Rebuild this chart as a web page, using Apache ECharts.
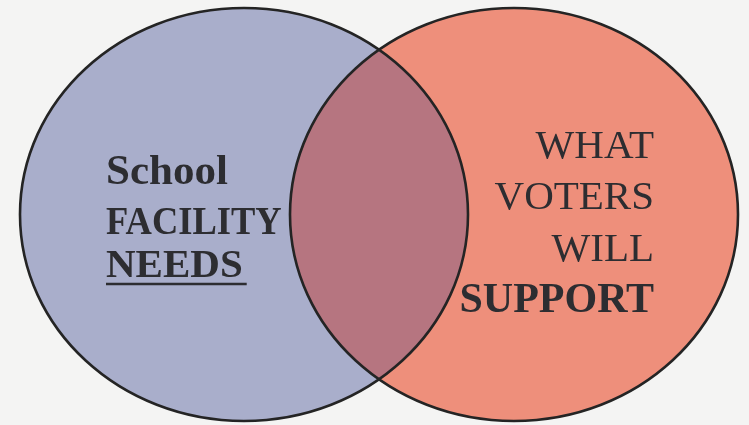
<!DOCTYPE html>
<html>
<head>
<meta charset="utf-8">
<title>School facility needs / what voters will support</title>
<script src="https://cdn.jsdelivr.net/npm/echarts@6/dist/echarts.min.js"></script>
<style>
  html, body { margin: 0; padding: 0; background: #f4f4f3; }
  #chart { width: 749px; height: 425px; }
</style>
</head>
<body>
<div id="chart"></div>
<script>
// the two sets of the venn diagram, in picture units (x to the right, y down)
const setNames = ['needs', 'support'];
const centerX = [244, 514];
const centerY = [214.5, 214.5];
const radiusX = [224, 224];
const radiusY = [206.5, 206.5];

// words written in each set
const needsLines = ['School', 'FACILITY', 'NEEDS'];
const supportLines = ['WHAT', 'VOTERS', 'WILL', 'SUPPORT'];

const fillColors = ['#a9aecb', '#ee8f7b'];
const overlapColor = '#b67580';
const lineColor = '#242424';
const textColor = '#2d2d31';
const serif = '"Liberation Serif", "DejaVu Serif", serif';

const chart = echarts.init(document.getElementById('chart'));

// ellipse of set i, converted to pixels by the axes
function ellipseOf(api, i) {
  const c = api.coord([centerX[i], centerY[i]]);
  const s = api.size([radiusX[i] * 2, radiusY[i] * 2]);
  return { cx: c[0], cy: c[1], rx: s[0] / 2, ry: s[1] / 2 };
}

function measure(text, font) {
  const ctx = document.createElement('canvas').getContext('2d');
  ctx.font = font;
  return ctx.measureText(text).width;
}

// baseline -> y for a middle-aligned text
function mid(baseline, size) {
  return baseline - size * 0.25;
}

function renderSet(params, api) {
  const i = params.dataIndex;
  const e = ellipseOf(api, i);
  return {
    type: 'ellipse',
    shape: e,
    style: { fill: fillColors[i], stroke: null }
  };
}

function renderOverlay(params, api) {
  const a = ellipseOf(api, 0);
  const b = ellipseOf(api, 1);
  // both sets share the same centre line and height
  const xi = (a.cx * b.rx + b.cx * a.rx) / (a.rx + b.rx);
  const t = (xi - a.cx) / a.rx;
  const dy = a.ry * Math.sqrt(1 - t * t);
  const yTop = a.cy - dy;
  const yBot = a.cy + dy;
  const lens = 'M' + xi + ' ' + yTop +
    ' A' + b.rx + ' ' + b.ry + ' 0 0 0 ' + xi + ' ' + yBot +
    ' A' + a.rx + ' ' + a.ry + ' 0 0 0 ' + xi + ' ' + yTop + ' Z';

  const children = [
    { type: 'path', shape: { pathData: lens }, style: { fill: overlapColor } },
    { type: 'ellipse', shape: a, style: { fill: null, stroke: lineColor, lineWidth: 2.6 } },
    { type: 'ellipse', shape: b, style: { fill: null, stroke: lineColor, lineWidth: 2.6 } }
  ];

  // left set words, bold, left aligned
  const lx = a.cx - 138;
  const leftBase = [184, 234, 277];
  const leftSize = [43, 41, 41];
  const leftScale = [1, 0.89, 1];
  needsLines.forEach(function (txt, k) {
    const y = api.coord([0, leftBase[k]])[1];
    children.push({
      type: 'text',
      x: lx,
      y: mid(y, leftSize[k]),
      scaleX: leftScale[k],
      style: {
        x: 0, y: 0, text: txt, fill: textColor,
        font: 'bold ' + leftSize[k] + 'px ' + serif,
        textAlign: 'left', textVerticalAlign: 'middle'
      }
    });
  });
  const needsW = measure(needsLines[2], 'bold 41px ' + serif);
  const uy = api.coord([0, 284])[1];
  children.push({
    type: 'line',
    shape: { x1: lx, y1: uy, x2: lx + needsW + 4, y2: uy },
    style: { stroke: textColor, lineWidth: 2.5 }
  });

  // right set words, right aligned, last line bold
  const rx = b.cx + 140;
  const rightBase = [157, 208, 260, 312];
  supportLines.forEach(function (txt, k) {
    const bold = k === supportLines.length - 1;
    const size = bold ? 42 : 41;
    const y = api.coord([0, rightBase[k]])[1];
    children.push({
      type: 'text',
      style: {
        x: rx, y: mid(y, size), text: txt, fill: textColor,
        font: (bold ? 'bold ' : '') + size + 'px ' + serif,
        textAlign: 'right', textVerticalAlign: 'middle'
      }
    });
  });

  return { type: 'group', children: children };
}

chart.setOption({
  backgroundColor: '#f4f4f3',
  animation: false,
  grid: { left: 0, right: 0, top: 0, bottom: 0 },
  xAxis: { type: 'value', min: 0, max: 749, show: false },
  yAxis: { type: 'value', min: 0, max: 425, inverse: true, show: false },
  series: [
    {
      type: 'custom',
      name: 'sets',
      renderItem: renderSet,
      clip: false,
      data: setNames.map(function (n, i) { return [centerX[i], centerY[i]]; }),
      z: 1
    },
    {
      type: 'custom',
      name: 'overlap',
      renderItem: renderOverlay,
      clip: false,
      data: [[0, 0]],
      z: 2
    }
  ]
});
</script>
</body>
</html>
